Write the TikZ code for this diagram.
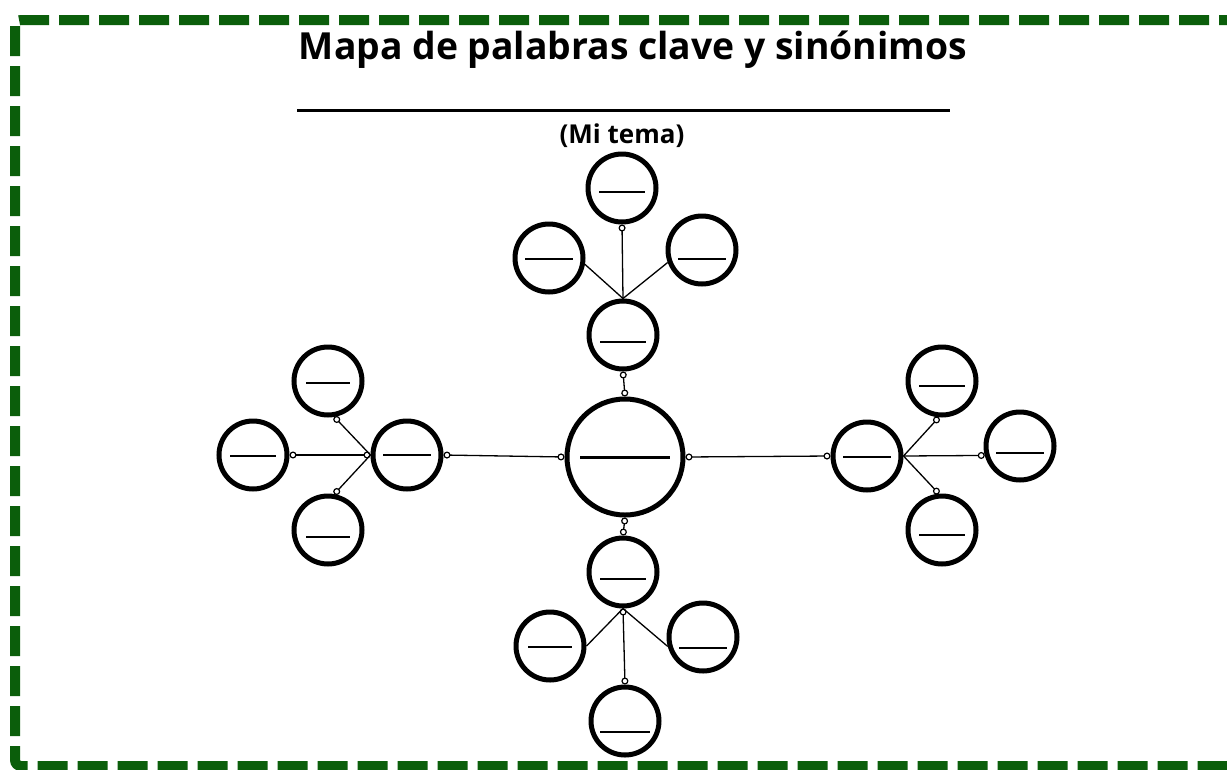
\documentclass[tikz,border=0pt]{standalone}
\usepackage{fontspec}
\setmainfont{Open Sans}
\usetikzlibrary{arrows.meta}
\definecolor{framegreen}{RGB}{11,94,11}
\newcommand{\blank}[2]{\smash{\rule[-#2]{#1}{2.5pt}}}

\begin{document}
\begin{tikzpicture}[x=1pt,y=-1pt,
	bubble/.style={circle,draw,line width=5pt,minimum size=68pt,inner sep=0pt},
	link/.style={line width=1.3pt},
	ring/.tip={Circle[open,length=7pt,width=7pt,line width=1.2pt]}]
	\useasboundingbox (0,0) rectangle (1227,769);
	\draw[framegreen,line width=10pt,dash pattern=on 30pt off 10pt,rounded corners=6pt] (15,20) rectangle (1233,766);
	\node[font=\bfseries\fontsize{37.3}{42}\selectfont] (title) at (633,50) {Mapa de palabras clave y sinónimos};
	\draw[line width=3pt] (297,110) -- (950,110);
	\node[font=\bfseries\fontsize{26}{30}\selectfont] (theme) at (622,136) {(Mi tema)};
	\node[bubble,minimum size=116pt] (main) at (625,457) {\blank{90pt}{1.5pt}};
	\node[bubble] (top) at (623,335) {\blank{46pt}{8pt}};
	\node[bubble] (topN) at (622,188) {\blank{46pt}{5pt}};
	\node[bubble] (topW) at (549,258) {\blank{48pt}{2pt}};
	\node[bubble] (topE) at (702,250) {\blank{48pt}{10pt}};
	\node[bubble] (bot) at (623,572) {\blank{46pt}{8pt}};
	\node[bubble] (botW) at (550,646) {\blank{44pt}{2pt}};
	\node[bubble] (botE) at (703,637) {\blank{48pt}{12pt}};
	\node[bubble] (botS) at (625,721) {\blank{50pt}{12pt}};
	\node[bubble] (left) at (407,455) {\blank{48pt}{1pt}};
	\node[bubble] (leftW) at (253,455) {\blank{46pt}{2pt}};
	\node[bubble] (leftN) at (328,381) {\blank{44pt}{3pt}};
	\node[bubble] (leftS) at (328,530) {\blank{44pt}{8pt}};
	\node[bubble] (right) at (867,456) {\blank{48pt}{2pt}};
	\node[bubble] (rightN) at (942,381) {\blank{46pt}{6pt}};
	\node[bubble] (rightE) at (1020,446) {\blank{48pt}{8pt}};
	\node[bubble] (rightS) at (942,530) {\blank{46pt}{6pt}};
	\draw[link,ring-ring] (main.north) -- (top.south);
	\draw[link,-ring] (top.north) -- (topN.south);
	\draw[link] (top.north) -- (topW.-10);
	\draw[link] (top.north) -- (topE.200);
	\draw[link,ring-ring] (main.south) -- (bot.north);
	\draw[link,ring-ring] (bot.south) -- (botS.north);
	\draw[link] (bot.south) -- (botW.east);
	\draw[link] (bot.south) -- (botE.195);
	\draw[link,ring-ring] (main.west) -- (left.east);
	\draw[link,ring-ring] (left.west) -- (leftW.east);
	\draw[link,-ring] (left.west) -- (leftN.-80);
	\draw[link,-ring] (left.west) -- (leftS.80);
	\draw[link,ring-ring] (main.east) -- (right.west);
	\draw[link,-ring] (right.east) -- (rightN.-95);
	\draw[link,-ring] (right.east) -- (rightE.195);
	\draw[link,-ring] (right.east) -- (rightS.95);
\end{tikzpicture}
\end{document}
